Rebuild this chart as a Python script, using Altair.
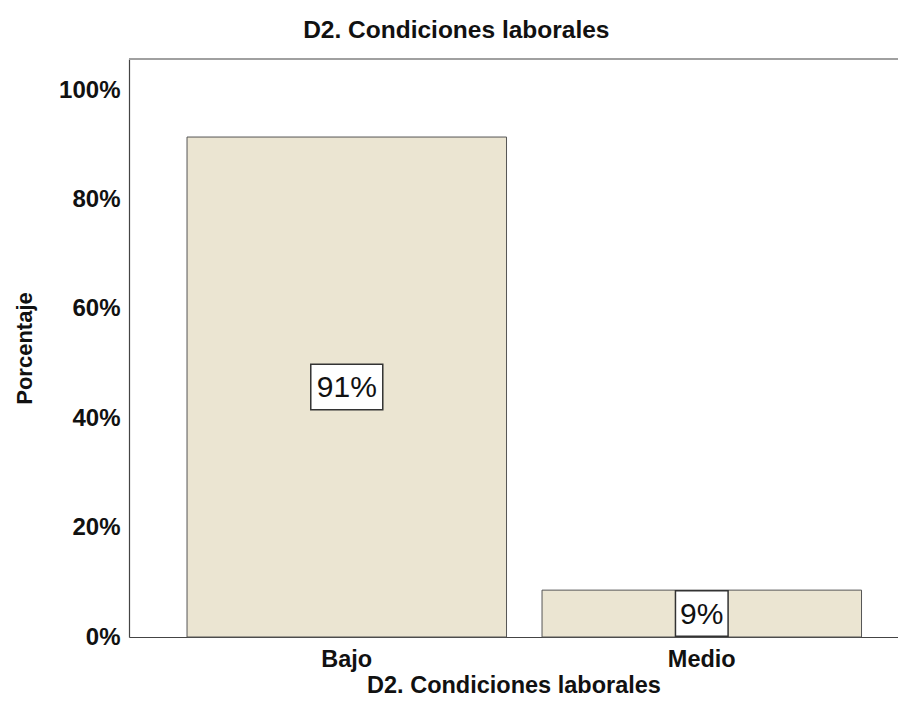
import altair as alt
import pandas as pd

categories = ["Bajo", "Medio"]
percentages = [91.43, 8.57]
labels = ["91%", "9%"]
y_ticks = [0, 20, 40, 60, 80, 100]

df = pd.DataFrame({"cat": categories, "pct": percentages, "lbl": labels})

FONT = "Liberation Sans"
BAR_FILL = "#ebe5d2"
BAR_STROKE = "#555555"

x_enc = alt.X(
    "cat:N",
    sort=categories,
    scale=alt.Scale(paddingInner=0.1, paddingOuter=0.1331, align=0.614),
    axis=alt.Axis(
        title="D2. Condiciones laborales",
        labelAngle=0,
        ticks=False,
        labelFontSize=23.5,
        labelFontWeight="bold",
        labelColor="#111111",
        labelPadding=10,
        titleFontSize=23.5,
        titleFontWeight="bold",
        titleColor="#111111",
        titlePadding=3,
        domainColor="#444444",
        domainWidth=1.2,
        labelFont=FONT,
        titleFont=FONT,
    ),
)

y_scale = alt.Scale(domain=[0, 105.7], nice=False, zero=True)

base = alt.Chart(df)

bars = base.mark_bar(fill=BAR_FILL, stroke=BAR_STROKE, strokeWidth=1).encode(
    x=x_enc,
    y=alt.Y(
        "pct:Q",
        scale=y_scale,
        axis=alt.Axis(
            title="Porcentaje",
            values=y_ticks,
            labelExpr="datum.value + '%'",
            ticks=False,
            grid=False,
            labelFontSize=24,
            labelFontWeight="bold",
            labelColor="#111111",
            labelPadding=9,
            titleFontSize=22,
            titleFontWeight="bold",
            titleColor="#111111",
            titlePadding=22,
            domainColor="#444444",
            domainWidth=1.2,
            labelFont=FONT,
            titleFont=FONT,
        ),
    ),
)

box_wide = "M-1,-0.633L1,-0.633L1,0.633L-1,0.633Z"
box_narrow = "M-0.731,-0.633L0.731,-0.633L0.731,0.633L-0.731,0.633Z"

boxes = (
    base.transform_calculate(mid="datum.pct / 2")
    .transform_calculate(
        shp=f"length(datum.lbl) > 2 ? '{box_wide}' : '{box_narrow}'"
    )
    .mark_point(filled=True, fill="white", stroke="#333333", strokeWidth=1.5, opacity=1, size=5184)
    .encode(
        x=alt.X("cat:N", sort=categories),
        y=alt.Y("mid:Q", scale=y_scale),
        shape=alt.Shape("shp:N", scale=None),
    )
)

texts = (
    base.transform_calculate(mid="datum.pct / 2")
    .mark_text(font=FONT, fontSize=30, color="#111111", baseline="middle", align="center", dy=1)
    .encode(
        x=alt.X("cat:N", sort=categories),
        y=alt.Y("mid:Q", scale=y_scale),
        text="lbl:N",
    )
)

top_rule = (
    alt.Chart(pd.DataFrame({"t": [0]}))
    .mark_rule(color="#a0a0a0", strokeWidth=2)
    .encode(x=alt.value(0), x2=alt.value(769), y=alt.value(0))
)

chart = (
    alt.layer(bars, boxes, texts, top_rule)
    .properties(
        width=769,
        height=578,
        autosize="none",
        padding={"left": 121, "top": 51, "right": 0, "bottom": 72},
        title=alt.TitleParams(
            "D2. Condiciones laborales",
            font=FONT,
            fontSize=24.5,
            fontWeight="bold",
            color="#111111",
            anchor="middle",
            frame="bounds",
            offset=15,
        ),
    )
    .configure_view(stroke=None)
    .configure(background="white")
)

chart.save("out.html", embed_options={"renderer": "svg", "actions": False})
